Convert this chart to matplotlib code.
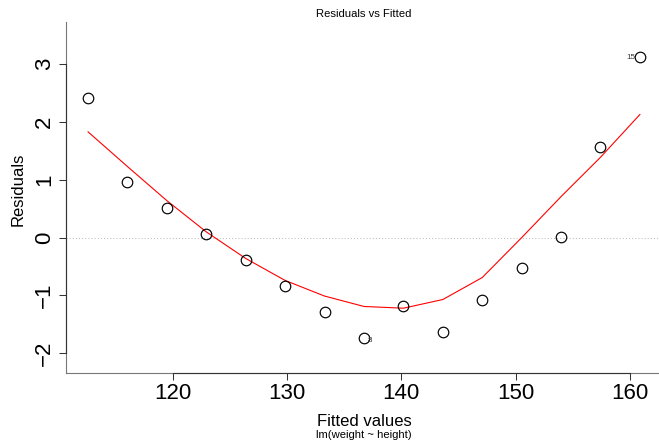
import numpy as np
import matplotlib
matplotlib.use("Agg")
import matplotlib.pyplot as plt

plt.rcParams['font.family'] = ['Liberation Sans', 'DejaVu Sans']

# lm(weight ~ height): fitted values and residuals per observation
fitted = [112.58, 116.03, 119.48, 122.93, 126.38, 129.83, 133.28, 136.73,
          140.18, 143.63, 147.08, 150.53, 153.98, 157.43, 160.88]
resid = [2.42, 0.97, 0.52, 0.07, -0.38, -0.83, -1.28, -1.73,
         -1.18, -1.63, -1.08, -0.53, 0.02, 1.57, 3.12]
# lowess smooth evaluated at the fitted values
smooth = [1.83, 1.23, 0.64, 0.10, -0.36, -0.74, -1.01, -1.19,
          -1.22, -1.07, -0.69, 0.00, 0.71, 1.39, 2.13]

xticks = [120, 130, 140, 150, 160]
yticks = [-2, -1, 0, 1, 2, 3]
labelled = {14: "15", 7: "8"}

W, H = 659, 441
fig = plt.figure(figsize=(W / 100, H / 100), dpi=100)
ax = fig.add_axes([66 / W, (H - 373.3) / H, (662 - 66) / W, (373.3 - 22) / H])

ax.axhline(0, color="#bebebe", lw=0.75, ls=(0, (1, 2)), zorder=1)
ax.plot(fitted, smooth, color="red", lw=0.8, zorder=2)
ax.plot(fitted, resid, "o", mfc="none", mec="black", ms=7.6, mew=0.85, zorder=3)

for i, lab in labelled.items():
    if i > len(fitted) / 2:
        ax.annotate(lab, (fitted[i], resid[i]), xytext=(-3, 0), textcoords="offset points",
                    ha="right", va="center", fontsize=5.8, color="#333333", zorder=4)
    else:
        ax.annotate(lab, (fitted[i], resid[i]), xytext=(2.6, -2), textcoords="offset points",
                    ha="left", va="center", fontsize=5.8, color="#333333", zorder=4)

ax.set_xlim(110.65, 162.815)
ax.set_ylim(-2.346, 3.73)
ax.set_xticks(xticks)
ax.set_yticks(yticks)

for side in ["top", "right"]:
    ax.spines[side].set_visible(False)
for side in ["left", "bottom"]:
    ax.spines[side].set_color("#777777")
    ax.spines[side].set_linewidth(0.8)

# axis lines spanning the tick range
ax.plot([xticks[0], xticks[-1]], [ax.get_ylim()[0]] * 2, color="#333333", lw=0.8,
        clip_on=False, zorder=5)
ax.plot([ax.get_xlim()[0]] * 2, [yticks[0], yticks[-1]], color="#333333", lw=0.8,
        clip_on=False, zorder=5)

ax.tick_params(axis="both", direction="out", length=5, width=0.75, color="#333333",
               labelsize=16)
ax.tick_params(axis="x", pad=2.2)
ax.tick_params(axis="y", pad=3)
for t in ax.get_yticklabels():
    t.set_rotation(90)
    t.set_va("center")
    t.set_ha("right")

fig.text(364 / W, 1 - 17.3 / H, "Residuals vs Fitted", ha="center", va="baseline",
         fontsize=8.1)
fig.text(364 / W, 1 - 425.7 / H, "Fitted values", ha="center", va="baseline", fontsize=12)
fig.text(364 / W, 1 - 437.5 / H, "lm(weight ~ height)", ha="center", va="baseline",
         fontsize=8.1)
fig.text(23 / W, 1 - 189.5 / H, "Residuals", rotation=90, rotation_mode="anchor",
         ha="center", va="baseline", fontsize=12)

fig.savefig("out.png", dpi=100)
